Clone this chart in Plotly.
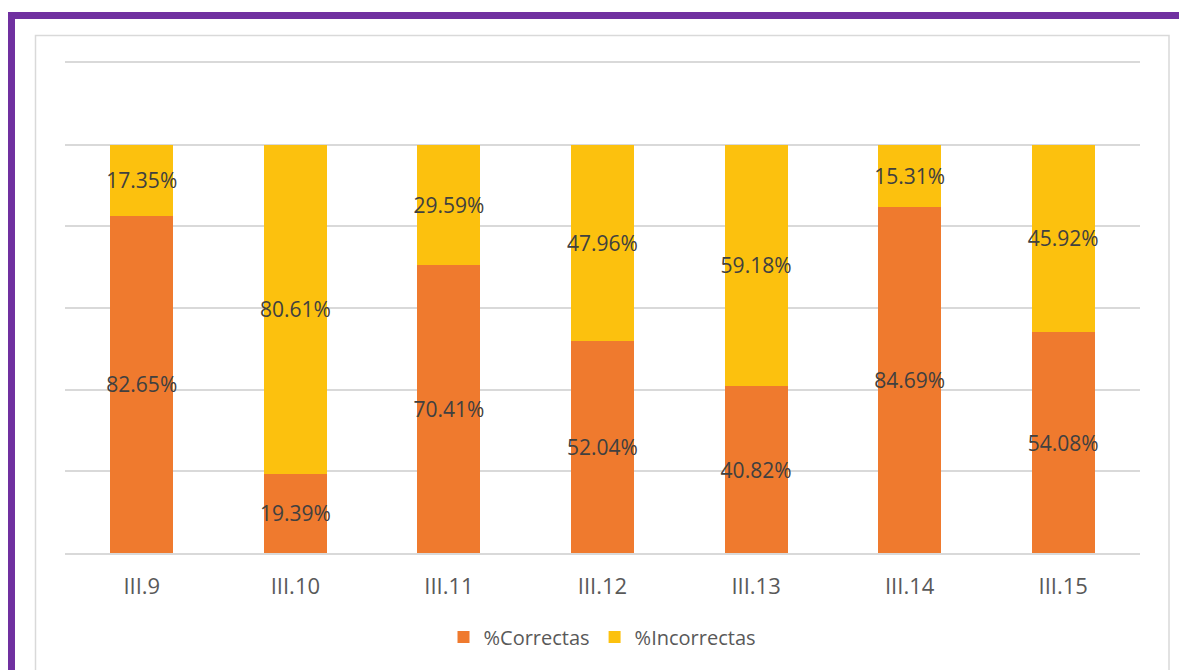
import plotly.graph_objects as go

categories = ["III.9", "III.10", "III.11", "III.12", "III.13", "III.14", "III.15"]
correctas = [82.65, 19.39, 70.41, 52.04, 40.82, 84.69, 54.08]
incorrectas = [17.35, 80.61, 29.59, 47.96, 59.18, 15.31, 45.92]

OFF = 8  # page body margin offset
W, H = 1187 - OFF, 670 - OFF
L, R, T, B = 65 - OFF, 1140 - OFF, 63 - OFF, 553 - OFF  # plot area in figure pixels


def px_x(px):
    return (px - OFF - L) / (R - L)


def px_y(py):
    return (B - (py - OFF)) / (B - T)


FONT = "Open Sans"
LABEL_COLOR = "#404040"
TICK_COLOR = "#595959"
GRID = "#D9D9D9"

fig = go.Figure()
fig.add_trace(go.Bar(
    x=categories, y=correctas, name="%Correctas",
    marker=dict(color="#EF7A2E", line=dict(width=0)),
    texttemplate="%{y:.2f}%", textposition="inside", insidetextanchor="middle",
    textangle=0, textfont=dict(family=FONT, size=21, color=LABEL_COLOR),
))
fig.add_trace(go.Bar(
    x=categories, y=incorrectas, name="%Incorrectas",
    marker=dict(color="#FCC10E", line=dict(width=0)),
    texttemplate="%{y:.2f}%", textposition="inside", insidetextanchor="middle",
    textangle=0, textfont=dict(family=FONT, size=21, color=LABEL_COLOR),
))

shapes = [
    # gray outer chart border
    dict(type="rect", xref="paper", yref="paper",
         x0=px_x(35.5), x1=px_x(1169), y0=px_y(700), y1=px_y(35.5),
         line=dict(color=GRID, width=1.5), fillcolor="rgba(0,0,0,0)", layer="below"),
    # purple frame top
    dict(type="line", xref="paper", yref="paper",
         x0=px_x(8), x1=px_x(1200), y0=px_y(15.5), y1=px_y(15.5),
         line=dict(color="#7030A0", width=7)),
    # purple frame left
    dict(type="line", xref="paper", yref="paper",
         x0=px_x(11.5), x1=px_x(11.5), y0=px_y(12), y1=px_y(700),
         line=dict(color="#7030A0", width=7)),
]

fig.update_layout(
    width=W, height=H,
    margin=dict(l=L, r=W - R, t=T, b=H - B),
    paper_bgcolor="white", plot_bgcolor="white",
    barmode="stack", bargap=0.59,
    uniformtext=dict(minsize=21, mode="show"),
    font=dict(family=FONT, color=TICK_COLOR, size=20),
    showlegend=True,
    legend=dict(orientation="h", x=0.5, xanchor="center", y=px_y(637), yanchor="middle",
                font=dict(family=FONT, size=20, color=TICK_COLOR), traceorder="normal",
                itemwidth=30, bgcolor="rgba(0,0,0,0)"),
    shapes=shapes,
)
fig.update_xaxes(
    showline=True, mirror=True, linecolor=GRID, linewidth=1.5,
    showgrid=False, ticks="", tickfont=dict(family=FONT, size=22, color=TICK_COLOR),
    ticklabelstandoff=13,
)
fig.update_yaxes(
    range=[0, 120], dtick=20, showgrid=True, gridcolor=GRID, gridwidth=1.5,
    zeroline=False, showticklabels=False, showline=False, ticks="",
)

fig.write_html("out.html")
